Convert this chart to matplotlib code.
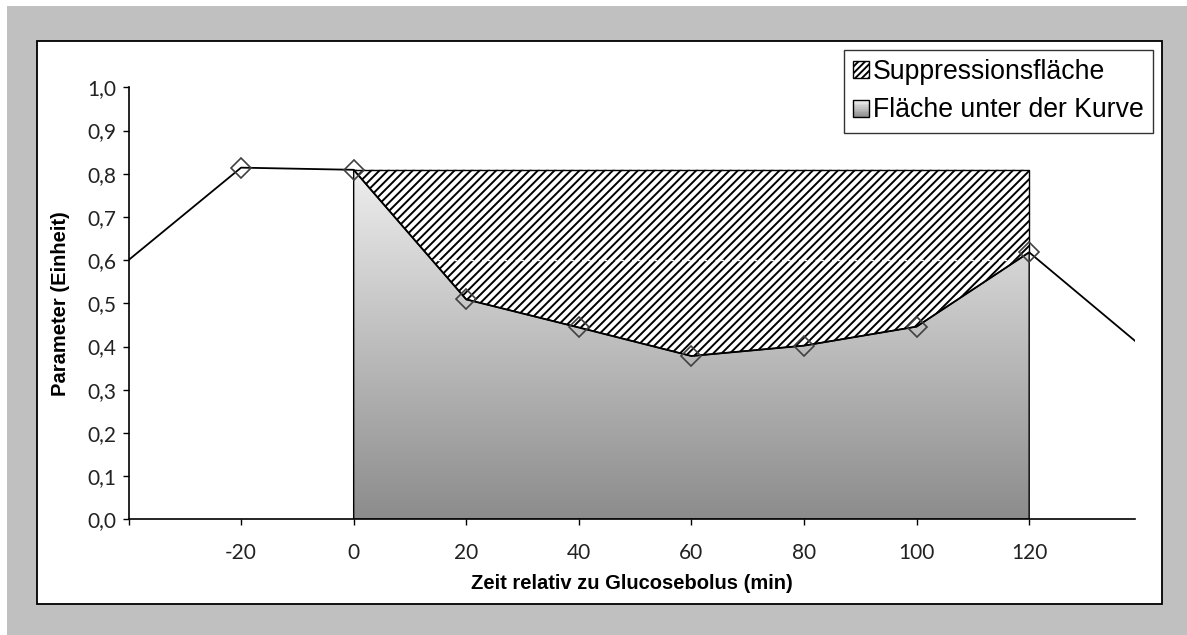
import matplotlib
matplotlib.use("Agg")
import matplotlib.pyplot as plt
import numpy as np
from matplotlib.patches import Rectangle, Patch, Polygon
from matplotlib.colors import LinearSegmentedColormap
from matplotlib.legend_handler import HandlerBase

# ---- data ----
time_min = [-40, -20, 0, 20, 40, 60, 80, 100, 120, 140]
param_vals = [0.60, 0.814, 0.809, 0.509, 0.444, 0.378, 0.402, 0.446, 0.618, 0.40]
marker_times = [-20, 0, 20, 40, 60, 80, 100, 120]
auc_start, auc_end = 0, 120
x_ticks = [-40, -20, 0, 20, 40, 60, 80, 100, 120]
x_ticklabels = ["", "-20", "0", "20", "40", "60", "80", "100", "120"]
y_ticks = [0.0, 0.1, 0.2, 0.3, 0.4, 0.5, 0.6, 0.7, 0.8, 0.9, 1.0]
y_ticklabels = ["0,0", "0,1", "0,2", "0,3", "0,4", "0,5", "0,6", "0,7", "0,8", "0,9", "1,0"]
legend_labels = ["Suppressionsfläche", "Fläche unter der Kurve"]
xlabel = "Zeit relativ zu Glucosebolus (min)"
ylabel = "Parameter (Einheit)"

plt.rcParams['hatch.linewidth'] = 1.4
plt.rcParams['hatch.color'] = 'black'

W, H = 1187, 635
fig = plt.figure(figsize=(W / 100, H / 100), dpi=100)
fig.patch.set_facecolor('white')

# outer gray background and white panel
fig.add_artist(Rectangle((7 / W, 0), 1 - 7 / W, 1 - 6 / H, transform=fig.transFigure,
                         facecolor='#c0c0c0', edgecolor='none', zorder=-10))
fig.add_artist(Rectangle((37 / W, 1 - 604 / H), (1162 - 37) / W, (604 - 41) / H,
                         transform=fig.transFigure, facecolor='white',
                         edgecolor='black', linewidth=1.3, zorder=-9))

ax = fig.add_axes([128.5 / W, 1 - 519.3 / H, (1135 - 128.5) / W, (519.3 - 87.3) / H])
ax.set_facecolor('none')
ax.set_xlim(-40, 138.8)
ax.set_ylim(0, 1.0)

t = np.array(time_min, dtype=float)
v = np.array(param_vals, dtype=float)
mask = (t >= auc_start) & (t <= auc_end)
ts, vs = t[mask], v[mask]
base = vs[0]

# gradient area under curve
poly_pts = [(auc_start, 0)] + list(zip(ts, vs)) + [(auc_end, 0)]
auc_poly = Polygon(poly_pts, closed=True, facecolor='none', edgecolor='black',
                   linewidth=1.0, zorder=3)
ax.add_patch(auc_poly)
cmap = LinearSegmentedColormap.from_list('g', ['#8c8c8c', '#eeeeee'])
grad = np.linspace(0, 1, 256).reshape(-1, 1)
im = ax.imshow(grad, cmap=cmap, origin='lower', aspect='auto',
               extent=[auc_start, auc_end, 0, base], zorder=2)
im.set_clip_path(auc_poly)

# hatched suppression area
sup_pts = list(zip(ts, vs)) + [(auc_end, base)]
sup_poly = Polygon(sup_pts, closed=True, facecolor='white', edgecolor='black',
                   hatch='////', linewidth=0, zorder=2.5)
ax.add_patch(sup_poly)
# faint rendering seam visible in the hatch
seam, = ax.plot([auc_start, auc_end], [0.6, 0.6], color='white', lw=1.0,
                dashes=(2, 2), zorder=2.6)
seam.set_clip_path(sup_poly)
ax.plot([auc_start, auc_end, auc_end], [base, base, vs[-1]], color='black', lw=1.0, zorder=3)

# line and markers
ax.plot(t, v, color='black', lw=1.3, zorder=4, clip_on=True)
mk = np.isin(t, marker_times)
ax.plot(t[mk], v[mk], linestyle='none', marker='D', markersize=10,
        markerfacecolor='none', markeredgecolor='#404040', markeredgewidth=1.2, zorder=5)

# axes styling
for s in ['top', 'right']:
    ax.spines[s].set_visible(False)
for s in ['left', 'bottom']:
    ax.spines[s].set_linewidth(1.2)
    ax.spines[s].set_zorder(6)
ax.set_xticks(x_ticks)
ax.set_xticklabels(x_ticklabels)
ax.set_yticks(y_ticks)
ax.set_yticklabels(y_ticklabels)
ax.tick_params(direction='out', length=4, width=1, labelsize=15, pad=5, colors='black')
for lab in ax.get_xticklabels() + ax.get_yticklabels():
    lab.set_family(['Lato', 'DejaVu Sans'])
    lab.set_color('#222222')
ax.tick_params(axis='x', pad=13)
ax.set_xlabel(xlabel, fontsize=14.5, fontweight='bold', family='Liberation Sans', labelpad=8)
ax.set_ylabel(ylabel, fontsize=14.5, fontweight='bold', family='Liberation Sans', labelpad=12)


class GradientHandler(HandlerBase):
    def create_artists(self, legend, orig_handle, xdescent, ydescent, width, height, fontsize, trans):
        arts = []
        n = 10
        cols = cmap(np.linspace(1, 0, n))
        for i in range(n):
            r = Rectangle((0, height * (1 - (i + 1) / n)), width, height / n,
                          facecolor=cols[i], edgecolor='none', transform=trans)
            arts.append(r)
        arts.append(Rectangle((0, 0), width, height, facecolor='none', edgecolor='black',
                              linewidth=1.0, transform=trans))
        return arts


h1 = Patch(facecolor='white', edgecolor='black', hatch='/////', linewidth=1.0)
h2 = Patch(facecolor='#c0c0c0', edgecolor='black')
leg = fig.legend([h1, h2], legend_labels, loc='upper right',
                 bbox_to_anchor=(1153 / W, 1 - 50 / H), bbox_transform=fig.transFigure,
                 handler_map={h2: GradientHandler()},
                 prop={'family': 'Liberation Sans', 'size': 19.2},
                 frameon=True, fancybox=False, shadow=False, borderaxespad=0,
                 handlelength=0.6, handleheight=0.6, handletextpad=0.15,
                 borderpad=0.35, labelspacing=0.45)
leg.get_frame().set_edgecolor('black')
leg.get_frame().set_linewidth(1.0)

fig.savefig('out.png', dpi=100, facecolor=fig.get_facecolor())
